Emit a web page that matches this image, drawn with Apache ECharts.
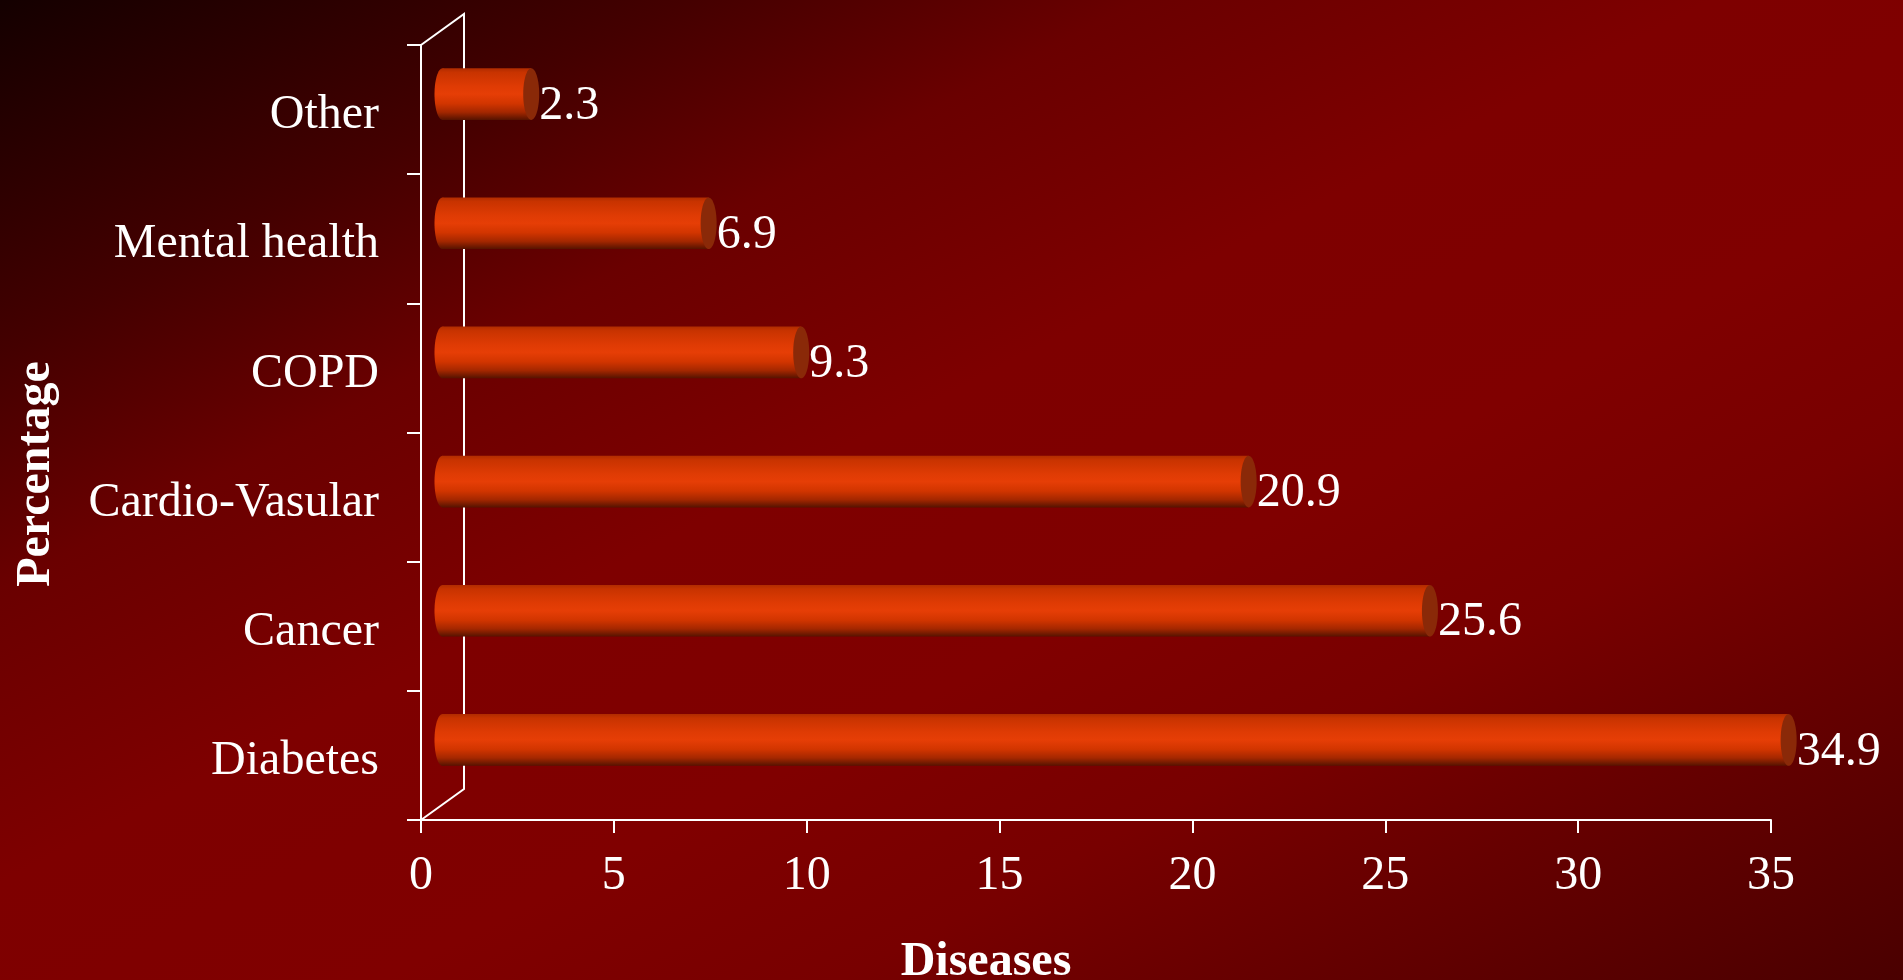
<!DOCTYPE html>
<html>
<head>
<meta charset="utf-8">
<title>Diseases by percentage</title>
<script src="https://cdn.jsdelivr.net/npm/echarts@6/dist/echarts.min.js"></script>
<style>
  html, body { margin: 0; padding: 0; width: 100%; height: 100%; overflow: hidden; }
  #chart { width: 1903px; height: 980px; }
</style>
</head>
<body>
<div id="chart"></div>
<script>
// Categories from bottom to top of the vertical axis
const categories = ['Diabetes', 'Cancer', 'Cardio-Vasular', 'COPD', 'Mental health', 'Other'];
// Percentage for each disease
const values = [34.9, 25.6, 20.9, 9.3, 6.9, 2.3];
// Value axis ticks
const xMin = 0;
const xMax = 35;
const xInterval = 5;
const xAxisTitle = 'Diseases';
const yAxisTitle = 'Percentage';

const FONT = "'Liberation Serif', 'Times New Roman', serif";
const DEPTH_X = 43;   // horizontal shift of the back wall
const DEPTH_Y = 31;   // vertical shift of the back wall
const CAP_RX = 8;     // half width of the cylinder end caps

const chart = echarts.init(document.getElementById('chart'), null, { renderer: 'canvas' });

const bodyGradient = new echarts.graphic.LinearGradient(0, 0, 0, 1, [
  { offset: 0, color: '#b02c00' },
  { offset: 0.08, color: '#c83300' },
  { offset: 0.35, color: '#df3b04' },
  { offset: 0.5, color: '#e63e06' },
  { offset: 0.68, color: '#d23500' },
  { offset: 0.85, color: '#a42700' },
  { offset: 1, color: '#561300' }
]);

const bgGradient = new echarts.graphic.LinearGradient(552.7, -284.5, 1350.3, 1264.5, [
  { offset: 0, color: '#140000' },
  { offset: 0.18, color: '#440000' },
  { offset: 0.3, color: '#6a0000' },
  { offset: 0.45, color: '#7e0000' },
  { offset: 0.6, color: '#800000' },
  { offset: 0.72, color: '#780000' },
  { offset: 0.83, color: '#660000' },
  { offset: 0.93, color: '#560000' },
  { offset: 1, color: '#4a0000' }
], true);

// Back wall of the pseudo-3D frame
function renderFrame(params, api) {
  const band = api.size([0, 1])[1];
  const bottom = api.coord([xMin, 0]);
  const top = api.coord([xMin, categories.length - 1]);
  const x0 = bottom[0];
  const yBottom = bottom[1] + band / 2;
  const yTop = top[1] - band / 2;
  return {
    type: 'polyline',
    shape: { points: [[x0, yTop], [x0 + DEPTH_X, yTop - DEPTH_Y], [x0 + DEPTH_X, yBottom - DEPTH_Y], [x0, yBottom]] },
    style: { fill: null, stroke: '#ffffff', lineWidth: 2 }
  };
}

// Horizontal cylinders with value labels
function renderBar(params, api) {
  const v = api.value(0);
  const c = api.value(1);
  const p0 = api.coord([0, c]);
  const p1 = api.coord([v, c]);
  const band = api.size([0, 1])[1];
  const h = band * 0.4;
  const ry = h / 2;
  const cy = p0[1] - DEPTH_Y / 2;
  const xs = p0[0] + DEPTH_X / 2;
  const xe = p1[0] + DEPTH_X / 2;
  return {
    type: 'group',
    children: [
      { type: 'ellipse', shape: { cx: xs, cy: cy, rx: CAP_RX, ry: ry }, style: { fill: bodyGradient } },
      { type: 'rect', shape: { x: xs, y: cy - ry, width: xe - xs, height: h }, style: { fill: bodyGradient } },
      { type: 'ellipse', shape: { cx: xe, cy: cy, rx: CAP_RX, ry: ry }, style: { fill: '#8a2908' } },
      { type: 'text', style: { text: String(v), x: xe + CAP_RX, y: cy + 12, fill: '#ffffff', font: '48px ' + FONT, align: 'left', verticalAlign: 'middle' } }
    ]
  };
}

const option = {
  animation: false,
  grid: { left: 421, right: 132, top: 45, bottom: 160, containLabel: false, outerBoundsMode: 'none' },
  graphic: [
    { type: 'rect', z: -100, silent: true, shape: { x: 0, y: 0, width: 1903, height: 980 }, style: { fill: bgGradient } },
    { type: 'text', x: 986, y: 963, silent: true, style: { text: xAxisTitle, fill: '#ffffff', font: 'bold 48px ' + FONT, align: 'center', verticalAlign: 'middle' } },
    { type: 'text', x: 37, y: 474, rotation: Math.PI / 2, silent: true, style: { text: yAxisTitle, fill: '#ffffff', font: 'bold 48px ' + FONT, align: 'center', verticalAlign: 'middle' } }
  ],
  xAxis: {
    type: 'value',
    min: xMin,
    max: xMax,
    interval: xInterval,
    splitLine: { show: false },
    axisLine: { show: true, lineStyle: { color: '#ffffff', width: 2 } },
    axisTick: { show: true, length: 13, lineStyle: { color: '#ffffff', width: 2 } },
    axisLabel: { color: '#ffffff', fontFamily: FONT, fontSize: 48, margin: 32 }
  },
  yAxis: {
    type: 'category',
    data: categories,
    axisLine: { show: true, lineStyle: { color: '#ffffff', width: 2 } },
    axisTick: { show: true, length: 14, lineStyle: { color: '#ffffff', width: 2 } },
    axisLabel: { color: '#ffffff', fontFamily: FONT, fontSize: 48, margin: 42, interval: 0, verticalAlign: 'top', lineHeight: 12 }
  },
  series: [
    {
      type: 'custom',
      name: 'frame',
      silent: true,
      renderItem: renderFrame,
      data: [[0, 0]],
      encode: { x: 0, y: 1 },
      z: 1
    },
    {
      type: 'custom',
      name: 'Percentage',
      renderItem: renderBar,
      data: values.map((v, i) => [v, i]),
      encode: { x: 0, y: 1 },
      z: 2
    }
  ]
};

chart.setOption(option);
</script>
</body>
</html>
